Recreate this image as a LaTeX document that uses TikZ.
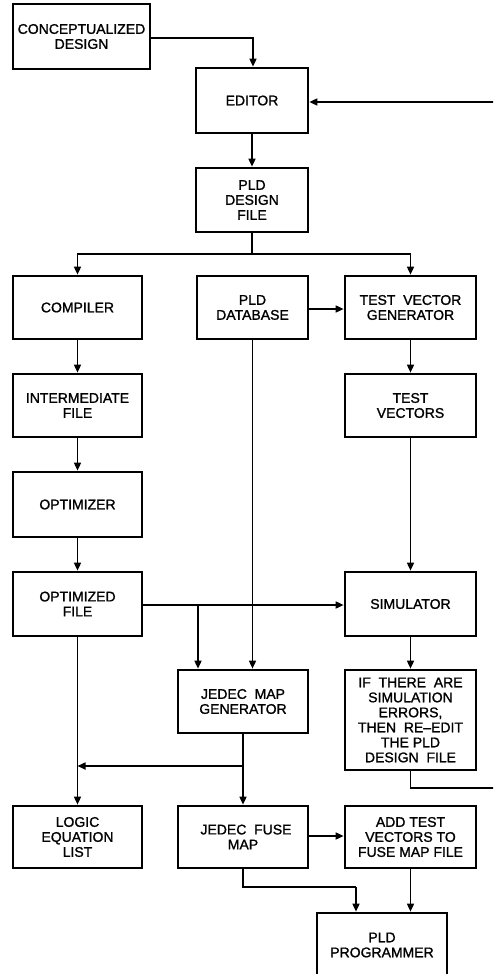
\documentclass[tikz,border=0pt]{standalone}
\usepackage{fontspec}
\setmainfont{Liberation Sans}[BoldFont=Liberation Sans, BoldFeatures={FakeBold=1.2}]
\usetikzlibrary{arrows.meta}
\begin{document}
\begin{tikzpicture}[x=1pt,y=-1pt,
  box/.style={draw=black,line width=2.7pt,rectangle,align=center,inner sep=0pt,
    font=\fontsize{14}{15}\selectfont\bfseries},
  conn/.style={line width=1.6pt,draw=black},
  arr/.style={conn,-{Triangle[length=8pt,width=7pt]}}]
\useasboundingbox (0,0) rectangle (493,974);
\clip (0,0) rectangle (493,974);
\fill[white] (0,0) rectangle (493,974);
% boxes
\node[box,minimum width=137pt,minimum height=65pt] (concept) at (81.5,36.5) {CONCEPTUALIZED\\DESIGN};
\node[box,minimum width=112pt,minimum height=65pt] (editor) at (252,100.5) {EDITOR};
\node[box,minimum width=112pt,minimum height=64pt] (pdf) at (252,200) {PLD\\DESIGN\\FILE};
\node[box,minimum width=129pt,minimum height=63pt] (compiler) at (77.5,307.5) {COMPILER};
\node[box,minimum width=111pt,minimum height=63pt] (pdb) at (252.5,307.5) {PLD\\DATABASE};
\node[box,minimum width=131pt,minimum height=63pt] (tvg) at (410.5,307.5) {TEST\ \ VECTOR\\GENERATOR};
\node[box,minimum width=129pt,minimum height=63pt] (inter) at (77.5,405.5) {INTERMEDIATE\\FILE};
\node[box,minimum width=131pt,minimum height=63pt] (tv) at (410.5,405.5) {TEST\\VECTORS};
\node[box,minimum width=129pt,minimum height=65pt] (opt) at (77.5,504.5) {OPTIMIZER};
\node[box,minimum width=129pt,minimum height=64pt] (optf) at (77.5,604) {OPTIMIZED\\FILE};
\node[box,minimum width=131pt,minimum height=64pt] (sim) at (410.5,604) {SIMULATOR};
\node[box,minimum width=130pt,minimum height=63pt] (jmg) at (243,701.5) {JEDEC\ \ MAP\\GENERATOR};
\node[box,minimum width=131pt,minimum height=100pt] (ifthere) at (410.5,720) {IF\ \ THERE\ \ ARE\\SIMULATION\\ERRORS,\\THEN\ \ RE--EDIT\\THE\ PLD\\DESIGN\ \ FILE};
\node[box,minimum width=129pt,minimum height=62pt] (lel) at (77.5,837) {LOGIC\\EQUATION\\LIST};
\node[box,minimum width=130pt,minimum height=62pt] (jfm) at (243,837) {\hspace*{6pt}JEDEC\ \ FUSE\\MAP};
\node[box,minimum width=131pt,minimum height=62pt] (add) at (410.5,837) {ADD TEST\\VECTORS TO\\FUSE MAP FILE};
\node[box,minimum width=130pt,minimum height=64pt] (prog) at (382,945) {PLD\\PROGRAMMER};
% coordinates
\coordinate (split) at (252,254);
\coordinate (br1) at (198,605);
\coordinate (br2) at (243,766);
\coordinate (br2l) at (77.5,766);
\coordinate (fb1) at (410.5,788);
\coordinate (fb2) at (494.5,788);
\coordinate (fb3) at (494.5,102);
\coordinate (jf1) at (243,887);
\coordinate (jf2) at (356,887);
% connectors
\draw[arr] (concept.east |- 0,38) -| (editor.north -| 253,0);
\draw[arr] (editor) -- (pdf);
\draw[conn] (pdf.south) -- (split);
\draw[arr] (split) -| (compiler.north);
\draw[arr] (split) -| (tvg.north);
\draw[arr] (pdb.east |- 0,309) -- (tvg.west |- 0,309);
\draw[arr] (compiler) -- (inter);
\draw[arr] (inter) -- (opt);
\draw[arr] (opt) -- (optf);
\draw[arr] (tvg) -- (tv);
\draw[arr] (tv) -- (sim);
\draw[arr] (pdb.south) -- (pdb.south |- jmg.north);
\draw[arr] (optf.east |- br1) -- (sim.west |- br1);
\draw[arr] (br1) -- (br1 |- jmg.north);
\draw[arr] (sim) -- (ifthere);
\draw[arr] (jmg) -- (jfm);
\draw[arr] (br2) -- (br2l);
\draw[arr] (optf) -- (lel);
\draw[conn] (ifthere.south) -- (fb1) -- (fb2) -- (fb3);
\draw[arr] (fb3) -- (editor.east |- fb3);
\draw[arr] (jfm.east |- 0,836) -- (add.west |- 0,836);
\draw[conn] (jfm.south) -- (jf1) -- (jf2);
\draw[arr] (jf2) -- (prog.north -| jf2);
\draw[arr] (add.south) -- (prog.north -| add.south);
\end{tikzpicture}
\end{document}
